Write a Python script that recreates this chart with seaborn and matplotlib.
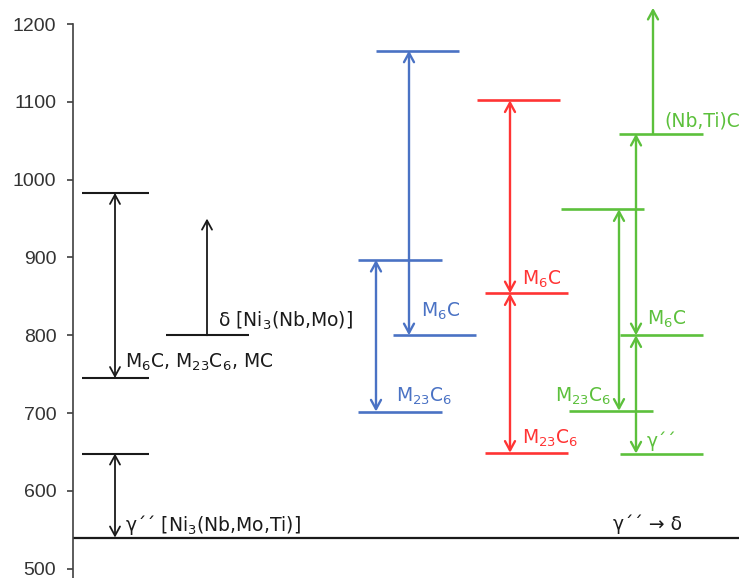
import matplotlib
matplotlib.use("Agg")
import matplotlib.pyplot as plt
import seaborn as sns
import pandas as pd

# ---------------- data: temperatures (°C) ----------------
yticks = [500, 600, 700, 800, 900, 1000, 1100, 1200]
baseline_T = 540

black_gpp_T = [540, 648]      # γ'' [Ni3(Nb,Mo,Ti)]
black_carb_T = [745, 983]     # M6C, M23C6, MC
black_delta_T = [800, 950]    # δ [Ni3(Nb,Mo)] (open upward)

blue_m23_T = [702, 897]
blue_m6_T = [800, 1166]

red_m23_T = [649, 854]
red_m6_T = [854, 1102]

green_m23_T = [703, 962]
green_gpp_T = [648, 800]
green_m6_T = [800, 1059]
green_nbti_T = [1059, 1221]   # (Nb,Ti)C (open upward)

labels_black = [r"M$_6$C, M$_{23}$C$_6$, MC", "γ´´ [Ni$_3$(Nb,Mo,Ti)]",
                "δ [Ni$_3$(Nb,Mo)]", "γ´´ → δ"]
labels_blue = [r"M$_6$C", r"M$_{23}$C$_6$"]
labels_red = [r"M$_6$C", r"M$_{23}$C$_6$"]
labels_green = ["(Nb,Ti)C", r"M$_6$C", r"M$_{23}$C$_6$", "γ´´"]

BLACK = "#1a1a1a"
BLUE = "#4a72c4"
RED = "#ff3434"
GREEN = "#5cc03c"

# ---------------- figure ----------------
sns.set_theme(style="ticks")
plt.rcParams["font.family"] = ["DejaVu Sans"]

W, H = 739, 578
fig = plt.figure(figsize=(W / 100, H / 100), dpi=100)
ax = fig.add_axes([73 / W, 0, (W - 73) / W, 1])
ax.set_xlim(73, W)
ax.set_ylim(488, 1231)

# level segments: (temperature, x-start, x-end, color, lw)
levels = pd.DataFrame([
    (black_carb_T[1], 82, 149, BLACK, 1.5),
    (black_carb_T[0], 82, 149, BLACK, 1.5),
    (black_gpp_T[1], 82, 149, BLACK, 1.5),
    (black_delta_T[0], 166, 249, BLACK, 1.5),
    (blue_m6_T[1], 376, 459, BLUE, 1.9),
    (blue_m23_T[1], 358, 442, BLUE, 1.9),
    (blue_m6_T[0], 393, 476, BLUE, 1.9),
    (blue_m23_T[0], 358, 442, BLUE, 1.9),
    (red_m6_T[1], 477, 560, RED, 1.9),
    (red_m6_T[0], 485, 568, RED, 1.9),
    (red_m23_T[0], 485, 568, RED, 1.9),
    (green_m6_T[1], 619, 703, GREEN, 1.9),
    (green_m23_T[1], 561, 644, GREEN, 1.9),
    (green_m6_T[0], 620, 703, GREEN, 1.9),
    (green_m23_T[0], 569, 653, GREEN, 1.9),
    (green_gpp_T[0], 620, 703, GREEN, 1.9),
], columns=["T", "x0", "x1", "color", "lw"])

for _, r in levels.iterrows():
    ax.hlines(r["T"], r["x0"], r["x1"], color=r["color"], lw=r["lw"])

ax.hlines(baseline_T, 73, W, color=BLACK, lw=1.6)

# arrows: (x, T-from, T-to, style, color, lw)
arrows = [
    (115, black_carb_T, "<->", BLACK, 1.3),
    (115, black_gpp_T, "<->", BLACK, 1.3),
    (207, black_delta_T, "->", BLACK, 1.3),
    (376, blue_m23_T, "<->", BLUE, 1.7),
    (409, blue_m6_T, "<->", BLUE, 1.7),
    (510, red_m6_T, "<->", RED, 1.7),
    (510, red_m23_T, "<->", RED, 1.7),
    (619, green_m23_T, "<->", GREEN, 1.7),
    (636, green_m6_T, "<->", GREEN, 1.7),
    (636, green_gpp_T, "<->", GREEN, 1.7),
    (653, green_nbti_T, "->", GREEN, 1.7),
]
for x, (t0, t1), style, c, lw in arrows:
    ax.annotate("", xy=(x, t1), xytext=(x, t0),
                arrowprops=dict(arrowstyle=f"{style},head_length=0.55,head_width=0.3",
                                color=c, lw=lw, shrinkA=0, shrinkB=0))

# labels
fs = 13.5
ax.text(125, 758, labels_black[0], color=BLACK, fontsize=fs, va="baseline")
ax.text(125, 549, labels_black[1], color=BLACK, fontsize=fs, va="baseline")
ax.text(218, 811, labels_black[2], color=BLACK, fontsize=fs, va="baseline")
ax.text(613, 550, labels_black[3], color=BLACK, fontsize=fs, va="baseline")

ax.text(421, 824, labels_blue[0], color=BLUE, fontsize=fs, va="baseline")
ax.text(396, 715, labels_blue[1], color=BLUE, fontsize=fs, va="baseline")

ax.text(522, 865, labels_red[0], color=RED, fontsize=fs, va="baseline")
ax.text(522, 661, labels_red[1], color=RED, fontsize=fs, va="baseline")

ax.text(664, 1068, labels_green[0], color=GREEN, fontsize=fs, va="baseline")
ax.text(647, 813, labels_green[1], color=GREEN, fontsize=fs, va="baseline")
ax.text(555, 715, labels_green[2], color=GREEN, fontsize=fs, va="baseline")
ax.text(647, 657, labels_green[3], color=GREEN, fontsize=fs, va="baseline")

# axis styling
sns.despine(ax=ax, bottom=True, right=True, top=True)
ax.spines["left"].set_bounds(488, 1200)
ax.spines["left"].set_color("#404040")
ax.spines["left"].set_linewidth(1.2)
ax.set_xticks([])
ax.set_yticks(yticks)
ax.set_yticklabels([str(t) for t in yticks], fontfamily="Liberation Sans",
                   fontsize=14, color="#333333")
ax.tick_params(axis="y", length=4, width=1.2, color="#404040", pad=8)
ax.set_facecolor("white")
ax.grid(False)

fig.savefig("out.png", dpi=100, facecolor="white")
